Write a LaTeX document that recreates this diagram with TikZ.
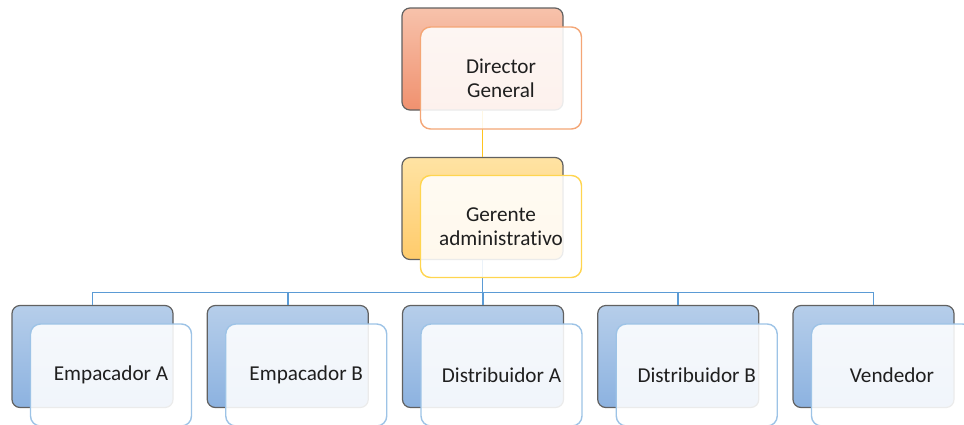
\documentclass[tikz,border=0pt]{standalone}
\usepackage{fontspec}
\setmainfont{Carlito}[Ligatures=NoCommon]
\definecolor{salmontop}{HTML}{F7C2AB}
\definecolor{salmonbot}{HTML}{F0916F}
\definecolor{salmonline}{HTML}{F4A676}
\definecolor{goldtop}{HTML}{FFE3A3}
\definecolor{goldbot}{HTML}{FFCB6B}
\definecolor{goldline}{HTML}{FFD54F}
\definecolor{linkgold}{HTML}{FFC41F}
\definecolor{bluetop}{HTML}{B6CEEA}
\definecolor{bluebot}{HTML}{8CB2E0}
\definecolor{blueline}{HTML}{9DC3E6}
\definecolor{linkblue}{HTML}{5B9BD5}
\tikzset{
  boxback/.style={draw=black!62, line width=0.6pt, rounded corners=4pt,
    minimum width=80.5pt, minimum height=51pt, inner sep=0pt},
  boxfront/.style={draw=#1, line width=0.7pt, rounded corners=5pt,
    fill=white, fill opacity=0.88, text opacity=1,
    minimum width=80.5pt, minimum height=51pt, inner sep=0pt,
    align=center, font=\fontsize{10.6}{12}\selectfont, text=black!88},
  link/.style={draw=#1, line width=0.8pt}
}
\begin{document}
\begin{tikzpicture}[x=0.5pt, y=-0.5pt]
\useasboundingbox (0,0) rectangle (964,424);
\clip (0,0) rectangle (964,424);
% back boxes
\node[boxback, top color=salmontop, bottom color=salmonbot] (dgb) at (482.5,59) {};
\node[boxback, top color=goldtop, bottom color=goldbot] (gab) at (482.5,208.5) {};
\node[boxback, top color=bluetop, bottom color=bluebot] (eab) at (92.5,356.5) {};
\node[boxback, top color=bluetop, bottom color=bluebot] (ebb) at (287.75,356.5) {};
\node[boxback, top color=bluetop, bottom color=bluebot] (dab) at (483,356.5) {};
\node[boxback, top color=bluetop, bottom color=bluebot] (dbb) at (678.25,356.5) {};
\node[boxback, top color=bluetop, bottom color=bluebot] (veb) at (873.5,356.5) {};
% connectors
\coordinate (bus) at (482.5,292.5);
\draw[link=linkgold] (dgb.south) -- (gab.north);
\draw[link=linkblue] (gab.south) -- (bus);
\draw[link=linkblue] (bus) -| (eab.north);
\draw[link=linkblue] (bus) -| (ebb.north);
\draw[link=linkblue] (bus) -| (dab.north);
\draw[link=linkblue] (bus) -| (dbb.north);
\draw[link=linkblue] (bus) -| (veb.north);
% front boxes
\node[boxfront=salmonline] (dg) at (501,78) {Director\\General};
\node[boxfront=goldline] (ga) at (501,226.5) {Gerente\\administrativo};
\node[boxfront=blueline] (ea) at (111,375) {Empacador A};
\node[boxfront=blueline] (eb) at (306.25,375) {Empacador B};
\node[boxfront=blueline] (da) at (501.5,375) {Distribuidor A};
\node[boxfront=blueline] (db) at (696.75,375) {Distribuidor B};
\node[boxfront=blueline] (ve) at (892,375) {Vendedor};
\end{tikzpicture}
\end{document}
